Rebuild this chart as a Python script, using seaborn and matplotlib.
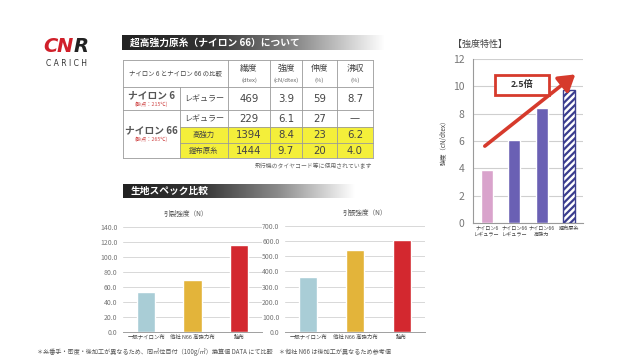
import numpy as np
import matplotlib
matplotlib.use("Agg")
import matplotlib.pyplot as plt
import seaborn as sns
from matplotlib.patches import Rectangle
from matplotlib.ticker import FormatStrFormatter
from matplotlib.colors import LinearSegmentedColormap

# ---- data ----
table_cols = ["繊度", "強度", "伸度", "沸収"]
table_units = ["(dtex)", "(cN/dtex)", "(%)", "(%)"]
table_rows = ["レギュラー", "レギュラー", "高強力", "鎧布原糸"]
table_vals = [["469", "3.9", "59", "8.7"],
              ["229", "6.1", "27", "—"],
              ["1394", "8.4", "23", "6.2"],
              ["1444", "9.7", "20", "4.0"]]

strength_cats = ["ナイロン6\nレギュラー", "ナイロン66\nレギュラー", "ナイロン66\n高強力", "鎧布原糸"]
strength_vals = [3.9, 6.1, 8.4, 9.7]

fabric_cats = ["一般ナイロン布", "他社 N66 高強力布", "鎧布"]
tear_vals = [54.0, 69.0, 116.0]
tensile_vals = [360.0, 540.0, 610.0]

sns.set_theme(style="white")
plt.rcParams['font.family'] = ['Noto Sans CJK JP', 'DejaVu Sans']
plt.rcParams['hatch.linewidth'] = 1.6

W, H = 640, 360
fig = plt.figure(figsize=(6.4, 3.6), dpi=100)
fig.patch.set_facecolor("white")


def px_axes(x0, y0, x1, y1):
    return fig.add_axes([x0 / W, 1 - y1 / H, (x1 - x0) / W, (y1 - y0) / H])


# background axes in pixel coords
bg = fig.add_axes([0, 0, 1, 1])
bg.axis("off")

# logo
for ch, x, col in [("C", 43, "#d0202a"), ("N", 57, "#d0202a"), ("R", 74, "#222222")]:
    bg.text(x, 47, ch, color=col, fontsize=14, fontweight="bold",
            fontstyle="italic", va="center", ha="left", family="DejaVu Sans")
bg.text(67, 63, "C A R I C H", color="#333333", fontsize=5.5,
        ha="center", va="center", family="DejaVu Sans")

# gradient header bars
grad = LinearSegmentedColormap.from_list("g", ["#222222", "#333333", "#8a8a8a", "#ffffff"])
g = np.linspace(0, 1, 256).reshape(1, -1)
bg.imshow(g, cmap=grad, extent=(122, 385, 50, 35), aspect="auto", zorder=1)
bg.text(130, 42.5, "超高強力原糸（ナイロン 66）について", color="white",
        fontsize=7, fontweight="bold", va="center", ha="left", zorder=2)
bg.imshow(g, cmap=grad, extent=(123, 355, 198, 184), aspect="auto", zorder=1)
bg.text(131, 191, "生地スペック比較", color="white",
        fontsize=7, fontweight="bold", va="center", ha="left", zorder=2)

# ---- table ----
lc = "#9a9a9a"
tx = "#444444"
col_x = [228, 270, 302, 337, 373]
row_tops = [87, 110, 127, 143]
row_bots = [110, 127, 143, 158]
bg.add_patch(Rectangle((180, 127), 193, 31, facecolor="#f4ef3a", edgecolor="none", zorder=1))
for y in [60, 87, 110, 158]:
    bg.plot([123, 373], [y, y], color=lc, lw=0.6, zorder=2)
for y in [127, 143]:
    bg.plot([180, 373], [y, y], color=lc, lw=0.6, zorder=2)
for x in [123] + col_x:
    bg.plot([x, x], [60, 158], color=lc, lw=0.6, zorder=2)
bg.plot([180, 180], [87, 158], color=lc, lw=0.6, zorder=2)

bg.text(175.5, 73.5, "ナイロン 6 とナイロン 66 の比較", fontsize=4.6, color=tx,
        ha="center", va="center", zorder=3)
for i, (c, u) in enumerate(zip(table_cols, table_units)):
    cx = (col_x[i] + col_x[i + 1]) / 2
    bg.text(cx, 68.5, c, fontsize=6.3, color=tx, ha="center", va="center", zorder=3)
    bg.text(cx, 80.5, u, fontsize=4.2, color="#666666", ha="center", va="center", zorder=3)

bg.text(151, 95, "ナイロン 6", fontsize=7, color="#555555", fontstyle="italic",
        fontweight="bold", ha="center", va="center", zorder=3)
bg.text(151, 104, "(融点：215℃)", fontsize=3.8, color="#d04848",
        ha="center", va="center", zorder=3)
bg.text(151, 130, "ナイロン 66", fontsize=7, color="#555555", fontstyle="italic",
        fontweight="bold", ha="center", va="center", zorder=3)
bg.text(151, 139, "(融点：265℃)", fontsize=3.8, color="#d04848",
        ha="center", va="center", zorder=3)

for r, lab in enumerate(table_rows):
    cy = (row_tops[r] + row_bots[r]) / 2
    fs = 5.8 if r < 2 else 5.3
    bg.text(204, cy, lab, fontsize=fs, color=tx, ha="center", va="center", zorder=3)
    for i, v in enumerate(table_vals[r]):
        cx = (col_x[i] + col_x[i + 1]) / 2
        bg.text(cx, cy, v, fontsize=7.3, color=tx, ha="center", va="center",
                family="DejaVu Sans", zorder=3)
bg.text(372, 166, "飛行機のタイヤコード等に使用されています", fontsize=4.2,
        color="#666666", ha="right", va="center", zorder=3)

# footnote
bg.text(37, 352, "＊糸番手・密度・後加工が異なるため、同㎡位目付（100g/㎡）換算値 DATA にて比較　"
        "＊他社 N66 は後加工が異なるため参考値", fontsize=4.4, color="#555555",
        ha="left", va="center")

bg.text(453, 44, "【強度特性】", fontsize=6.5, color="#444444", ha="left", va="center")
bg.set_xlim(0, W)
bg.set_ylim(H, 0)

# ---- strength chart (right) ----
ax = px_axes(473, 59, 583, 223)
sns.barplot(x=strength_cats, y=strength_vals, hue=strength_cats, legend=False,
            palette=["#d9a3cc", "#6a60b4", "#6a60b4", "#ffffff"], width=0.42,
            saturation=1, ax=ax, zorder=3)
last = ax.patches[3]
last.set_hatch("/////")
last.set_edgecolor("#3b3d8e")
last.set_linewidth(1.0)
ax.set_xlim(-0.5, 3.5)
ax.set_ylim(0, 12)
ax.set_yticks(range(0, 13, 2))
ax.yaxis.grid(True, color="#cfcfcf", lw=0.8, zorder=0)
for s in ["top", "right"]:
    ax.spines[s].set_visible(False)
for s in ["left", "bottom"]:
    ax.spines[s].set_color("#9a9a9a")
    ax.spines[s].set_linewidth(0.8)
ax.tick_params(axis="y", labelsize=7.5, colors="#777777", length=0, pad=6)
ax.tick_params(axis="x", labelsize=3.7, colors="#444444", length=0, pad=2)
ax.set_ylabel("強度（cN/dtex）", fontsize=4.5, color="#444444", labelpad=4)
ax.annotate("", xy=(3.3, 11.0), xytext=(-0.15, 5.5),
            arrowprops=dict(arrowstyle="-|>,head_width=0.5,head_length=0.8",
                            color="#d63a2c", lw=2.6), zorder=5)
ax.add_patch(Rectangle((0.3, 9.4), 1.95, 1.4, facecolor="white", edgecolor="#d63a2c",
                       lw=2.0, zorder=6))
ax.text(1.27, 10.1, "2.5倍", fontsize=6.5, fontweight="bold", color="#333333",
        ha="center", va="center", zorder=7)

# ---- tear strength (bottom left) ----
fab_pal = ["#a9cdd6", "#e3b43a", "#d3282f"]
ax1 = px_axes(123, 227, 262, 332)
sns.barplot(x=fabric_cats, y=tear_vals, hue=fabric_cats, legend=False,
            palette=fab_pal, width=0.4, saturation=1, ax=ax1, zorder=3)
ax1.set_ylim(0, 140)
ax1.set_yticks(range(0, 141, 20))
ax1.set_title("引裂強度（N）", fontsize=4.8, color="#555555", pad=8, x=0.45)

# ---- tensile strength (bottom right) ----
ax2 = px_axes(285, 226, 425, 332)
sns.barplot(x=fabric_cats, y=tensile_vals, hue=fabric_cats, legend=False,
            palette=fab_pal, width=0.39, saturation=1, ax=ax2, zorder=3)
ax2.set_ylim(0, 700)
ax2.set_yticks(range(0, 701, 100))
ax2.set_title("引張強度（N）", fontsize=4.8, color="#555555", pad=8, x=0.57)

for a in (ax1, ax2):
    a.set_xlim(-0.5, 2.5)
    a.yaxis.set_major_formatter(FormatStrFormatter("%.1f"))
    a.yaxis.grid(True, color="#d8d8d8", lw=0.7, zorder=0)
    for s in ["top", "right", "left"]:
        a.spines[s].set_visible(False)
    a.spines["bottom"].set_color("#a0a0a0")
    a.spines["bottom"].set_linewidth(0.7)
    a.tick_params(axis="y", labelsize=5, colors="#777777", length=0, pad=4)
    a.tick_params(axis="x", labelsize=3.9, colors="#444444", length=0, pad=2)

fig.savefig("out.png", dpi=100, facecolor="white")
